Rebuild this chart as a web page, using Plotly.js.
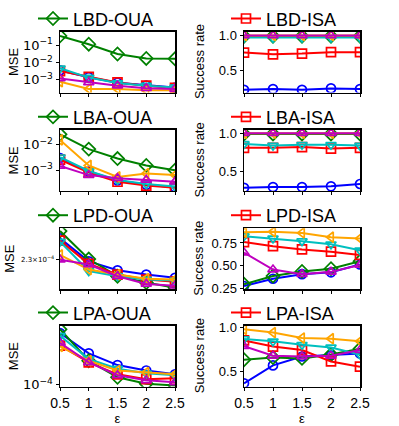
<!DOCTYPE html>
<html><head><meta charset="utf-8">
<script src="https://cdn.plot.ly/plotly-3.0.1.min.js"></script>
<style>html,body{margin:0;padding:0;background:#fff}#chart{width:399px;height:426px}</style>
</head><body><div id="chart"></div>
<script>
const eps = [0.5, 1, 1.5, 2, 2.5];
const xTickLabels = ['0.5', '1', '1.5', '2', '2.5'];
const panelNames = ['LBD-OUA', 'LBD-ISA', 'LBA-OUA', 'LBA-ISA', 'LPD-OUA', 'LPD-ISA', 'LPA-OUA', 'LPA-ISA'];

// Panel 1: LBD-OUA (MSE)
const lbdOuaGreen   = [0.355, 0.117, 0.0316, 0.0174, 0.0166];
const lbdOuaOrange  = [0.000776, 0.000295, 0.000295, 0.000245, 0.000245];
const lbdOuaRed     = [0.00324, 0.00148, 0.000708, 0.000457, 0.000339];
const lbdOuaCyan    = [0.00468, 0.00135, 0.000646, 0.000457, 0.000363];
const lbdOuaMagenta = [0.0012, 0.000708, 0.000457, 0.000324, 0.000295];
const lbdOuaBlue    = [0.00355, 0.00141, 0.000676, 0.000468, 0.000355];
// Panel 2: LBD-ISA (success rate)
const lbdIsaGreen   = [0.99, 0.99, 0.99, 0.99, 0.99];
const lbdIsaOrange  = [1.0, 1.0, 1.0, 1.0, 1.0];
const lbdIsaRed     = [0.754, 0.73, 0.74, 0.76, 0.76];
const lbdIsaCyan    = [0.97, 0.965, 0.97, 0.97, 0.97];
const lbdIsaMagenta = [1.0, 1.0, 1.0, 1.0, 1.0];
const lbdIsaBlue    = [0.22, 0.23, 0.22, 0.24, 0.23];
// Panel 3: LBA-OUA (MSE)
const lbaOuaGreen   = [0.0257, 0.00676, 0.00288, 0.00155, 0.001];
const lbaOuaOrange  = [0.0155, 0.00155, 0.00055, 0.000741, 0.000646];
const lbaOuaRed     = [0.00263, 0.000813, 0.000355, 0.000251, 0.000204];
const lbaOuaCyan    = [0.00324, 0.000933, 0.000417, 0.000288, 0.000229];
const lbaOuaMagenta = [0.00148, 0.000646, 0.00049, 0.000417, 0.000355];
const lbaOuaBlue    = [0.00302, 0.000891, 0.000398, 0.000269, 0.000214];
// Panel 4: LBA-ISA (success rate)
const lbaIsaGreen   = [0.99, 0.99, 0.99, 0.99, 0.99];
const lbaIsaOrange  = [1.0, 1.0, 1.0, 1.0, 1.0];
const lbaIsaRed     = [0.81, 0.81, 0.82, 0.80, 0.81];
const lbaIsaCyan    = [0.86, 0.84, 0.85, 0.85, 0.84];
const lbaIsaMagenta = [1.0, 1.0, 1.0, 1.0, 1.0];
const lbaIsaBlue    = [0.29, 0.30, 0.30, 0.31, 0.34];
// Panel 5: LPD-OUA (MSE)
const lpdOuaGreen   = [3.36e-4, 2.32e-4, 1.85e-4, 1.70e-4, 1.59e-4];
const lpdOuaOrange  = [2.45e-4, 2.02e-4, 1.89e-4, 1.79e-4, 1.77e-4];
const lpdOuaRed     = [2.96e-4, 2.18e-4, 1.89e-4, 1.77e-4, 1.72e-4];
const lpdOuaCyan    = [2.92e-4, 1.98e-4, 1.85e-4, 1.77e-4, 1.75e-4];
const lpdOuaMagenta = [2.30e-4, 2.16e-4, 1.85e-4, 1.67e-4, 1.63e-4];
const lpdOuaBlue    = [3.05e-4, 2.25e-4, 2.00e-4, 1.89e-4, 1.81e-4];
// Panel 6: LPD-ISA (success rate)
const lpdIsaGreen   = [0.30, 0.39, 0.44, 0.47, 0.55];
const lpdIsaOrange  = [0.866, 0.872, 0.86, 0.813, 0.80];
const lpdIsaRed     = [0.76, 0.715, 0.68, 0.655, 0.62];
const lpdIsaCyan    = [0.824, 0.80, 0.77, 0.735, 0.67];
const lpdIsaMagenta = [0.645, 0.46, 0.41, 0.435, 0.51];
const lpdIsaBlue    = [0.28, 0.36, 0.41, 0.43, 0.515];
// Panel 7: LPA-OUA (MSE)
const lpaOuaGreen   = [1.68e-4, 1.25e-4, 1.07e-4, 1.007e-4, 0.99e-4];
const lpaOuaOrange  = [1.43e-4, 1.25e-4, 1.14e-4, 1.12e-4, 1.10e-4];
const lpaOuaRed     = [1.44e-4, 1.23e-4, 1.10e-4, 1.05e-4, 1.06e-4];
const lpaOuaCyan    = [1.58e-4, 1.27e-4, 1.16e-4, 1.11e-4, 1.09e-4];
const lpaOuaMagenta = [1.48e-4, 1.23e-4, 1.09e-4, 1.04e-4, 1.02e-4];
const lpaOuaBlue    = [1.62e-4, 1.34e-4, 1.20e-4, 1.14e-4, 1.10e-4];
// Panel 8: LPA-ISA (success rate)
const lpaIsaGreen   = [0.63, 0.655, 0.645, 0.69, 0.755];
const lpaIsaOrange  = [0.978, 0.94, 0.878, 0.87, 0.84];
const lpaIsaRed     = [0.85, 0.78, 0.74, 0.61, 0.55];
const lpaIsaCyan    = [0.867, 0.84, 0.80, 0.77, 0.69];
const lpaIsaMagenta = [0.785, 0.675, 0.667, 0.675, 0.74];
const lpaIsaBlue    = [0.36, 0.565, 0.667, 0.68, 0.70];

const panelSeries = [
  {blue: lbdOuaBlue, green: lbdOuaGreen, red: lbdOuaRed, cyan: lbdOuaCyan, orange: lbdOuaOrange, magenta: lbdOuaMagenta},
  {blue: lbdIsaBlue, green: lbdIsaGreen, red: lbdIsaRed, cyan: lbdIsaCyan, orange: lbdIsaOrange, magenta: lbdIsaMagenta},
  {blue: lbaOuaBlue, green: lbaOuaGreen, red: lbaOuaRed, cyan: lbaOuaCyan, orange: lbaOuaOrange, magenta: lbaOuaMagenta},
  {blue: lbaIsaBlue, green: lbaIsaGreen, red: lbaIsaRed, cyan: lbaIsaCyan, orange: lbaIsaOrange, magenta: lbaIsaMagenta},
  {blue: lpdOuaBlue, green: lpdOuaGreen, red: lpdOuaRed, cyan: lpdOuaCyan, orange: lpdOuaOrange, magenta: lpdOuaMagenta},
  {blue: lpdIsaBlue, green: lpdIsaGreen, red: lpdIsaRed, cyan: lpdIsaCyan, orange: lpdIsaOrange, magenta: lpdIsaMagenta},
  {blue: lpaOuaBlue, green: lpaOuaGreen, red: lpaOuaRed, cyan: lpaOuaCyan, orange: lpaOuaOrange, magenta: lpaOuaMagenta},
  {blue: lpaIsaBlue, green: lpaIsaGreen, red: lpaIsaRed, cyan: lpaIsaCyan, orange: lpaIsaOrange, magenta: lpaIsaMagenta}
];

const styles = {
  blue:    {color: '#0000ff', symbol: 'circle-open', size: 9},
  green:   {color: '#008000', symbol: 'diamond-open', size: 10},
  red:     {color: '#ff0000', symbol: 'square-open', size: 9},
  cyan:    {color: '#00bfbf', symbol: 'triangle-down-open', size: 9},
  orange:  {color: '#ffa500', symbol: 'triangle-left-open', size: 9},
  magenta: {color: '#bf00bf', symbol: 'triangle-up-open', size: 9}
};
const order = ['blue', 'green', 'red', 'cyan', 'orange', 'magenta'];

const W = 399, H = 426;
const colX = [[60, 175], [244, 360]];
const rowY = [[25, 87], [125, 187], [225, 287], [324, 386]];
const legendYpx = [12, 112, 212, 311];
const legendXpx = [33, 226];
const yTitleXpx = [[13, 199], [13, 199], [10, 199], [13, 199]];

const mathFont = 'DejaVu Sans, sans-serif';
const font = 'Liberation Sans, Arial, sans-serif';
const yCfg = [
  {type: 'log', range: [-3.74, -0.2], tickvals: [1e-3, 1e-2, 1e-1], ticktext: ['10<sup>−3</sup>', '10<sup>−2</sup>', '10<sup>−1</sup>'], size: 13, family: mathFont},
  {type: 'linear', range: [0.18, 1.056], tickvals: [0.5, 1.0], ticktext: ['0.5', '1.0'], size: 13, family: font},
  {type: 'log', range: [-3.81, -1.42], tickvals: [1e-3, 1e-2], ticktext: ['10<sup>−3</sup>', '10<sup>−2</sup>'], size: 13, family: mathFont},
  {type: 'linear', range: [0.25, 1.042], tickvals: [0.5, 1.0], ticktext: ['0.5', '1.0'], size: 13, family: font},
  {type: 'log', range: [-3.808, -3.458], tickvals: [2.3e-4], ticktext: ['2.3×10<sup>−4</sup>'], size: 7, family: mathFont},
  {type: 'linear', range: [0.245, 0.91], tickvals: [0.25, 0.5, 0.75], ticktext: ['0.25', '0.50', '0.75'], size: 13, family: font},
  {type: 'log', range: [-4.009, -3.76], tickvals: [1e-4], ticktext: ['10<sup>−4</sup>'], size: 13, family: mathFont},
  {type: 'linear', range: [0.322, 1.019], tickvals: [0.5, 1.0], ticktext: ['0.5', '1.0'], size: 13, family: font}
];

const traces = [];
const layout = {
  width: W, height: H,
  margin: {l: 0, r: 0, t: 0, b: 0},
  paper_bgcolor: '#fff', plot_bgcolor: '#fff',
  font: {family: font, color: '#000'},
  showlegend: true,
  annotations: []
};

for (let p = 0; p < 8; p++) {
  const row = Math.floor(p / 2), col = p % 2;
  const n = p + 1;
  const xa = n === 1 ? 'xaxis' : 'xaxis' + n;
  const ya = n === 1 ? 'yaxis' : 'yaxis' + n;
  const lg = n === 1 ? 'legend' : 'legend' + n;
  const featured = col === 0 ? 'green' : 'red';
  for (const key of order) {
    const s = styles[key];
    traces.push({
      x: eps, y: panelSeries[p][key],
      xaxis: 'x' + (n === 1 ? '' : n), yaxis: 'y' + (n === 1 ? '' : n),
      type: 'scatter', mode: 'lines+markers',
      name: panelNames[p],
      showlegend: key === featured,
      legend: lg,
      line: {color: s.color, width: 2},
      marker: {symbol: s.symbol, size: s.size, color: s.color, line: {color: s.color, width: 1.7}},
      cliponaxis: true
    });
  }
  const bottom = row === 3;
  const xax = {
    domain: [colX[col][0] / W, colX[col][1] / W],
    anchor: 'y' + (n === 1 ? '' : n),
    range: [0.5, 2.5], type: 'linear',
    tickvals: eps, ticktext: xTickLabels,
    showticklabels: bottom,
    ticks: 'outside', ticklen: 3, tickwidth: 1, tickcolor: '#000',
    showline: true, linecolor: '#000', linewidth: 1.5, mirror: true,
    showgrid: false, zeroline: false,
    tickfont: {size: 14, family: font, color: '#000'}
  };
  if (bottom) xax.title = {text: 'ε', font: {size: 13, family: font}, standoff: 2};
  layout[xa] = xax;
  const yc = yCfg[p];
  layout[ya] = {
    domain: [1 - rowY[row][1] / H, 1 - rowY[row][0] / H],
    anchor: 'x' + (n === 1 ? '' : n),
    type: yc.type, range: yc.range,
    tickvals: yc.tickvals, ticktext: yc.ticktext,
    ticks: 'outside', ticklen: 3, tickwidth: 1, tickcolor: '#000',
    showline: true, linecolor: '#000', linewidth: 1.5, mirror: true,
    showgrid: false, zeroline: false,
    tickfont: {size: yc.size, family: yc.family, color: '#000'}
  };
  layout[lg] = {
    x: legendXpx[col] / W, xanchor: 'left',
    y: 1 - legendYpx[row] / H, yanchor: 'middle',
    font: {size: 18, family: font, color: '#000'},
    bgcolor: 'rgba(0,0,0,0)', borderwidth: 0
  };
  layout.annotations.push({
    text: col === 0 ? 'MSE' : 'Success rate',
    xref: 'paper', yref: 'paper',
    x: yTitleXpx[row][col] / W, y: 1 - ((rowY[row][0] + rowY[row][1]) / 2) / H,
    xanchor: 'center', yanchor: 'middle', textangle: -90, showarrow: false,
    font: {size: 13, family: font, color: '#000'}
  });
}

Plotly.newPlot('chart', traces, layout, {displayModeBar: false, staticPlot: true});
</script>
</body></html>
